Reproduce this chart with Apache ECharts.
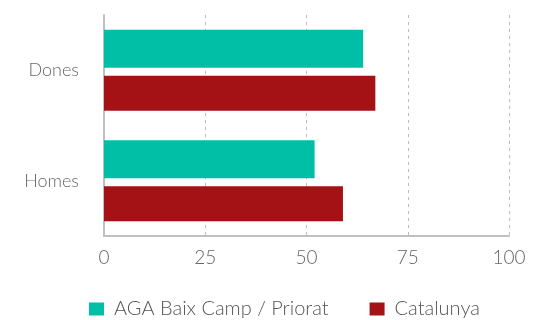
<!DOCTYPE html>
<html><head><meta charset="utf-8">
<script src="https://cdn.jsdelivr.net/npm/echarts@6/dist/echarts.min.js"></script>
<style>html,body{margin:0;padding:0;background:#fff}#c{width:537px;height:320px}</style>
</head><body><div id="c"></div>
<script>
const categories = ['Dones', 'Homes'];
const seriesNames = ['AGA Baix Camp / Priorat', 'Catalunya'];
const agaValues = [64, 52];
const catValues = [67, 59];
const xTicks = [0, 25, 50, 75, 100];

const FONT = 'Lato';
const chart = echarts.init(document.getElementById('c'));
chart.setOption({
  animation: false,
  grid: { left: 104, right: 28, top: 15, bottom: 84, containLabel: false },
  legend: {
    data: seriesNames,
    top: 299,
    left: 89,
    padding: 0,
    itemWidth: 15, itemHeight: 13, itemGap: 41,
    icon: 'rect',
    textStyle: { fontFamily: FONT, fontWeight: 300, fontSize: 20, lineHeight: 16, color: '#555', padding: [4, 0, 0, 5] }
  },
  xAxis: {
    type: 'value', min: xTicks[0], max: xTicks[xTicks.length - 1], interval: 25,
    axisLine: { show: true, lineStyle: { color: '#c0c0c0', width: 2 } },
    axisTick: { show: false },
    axisLabel: { fontFamily: FONT, fontWeight: 300, fontSize: 19, color: '#666', margin: 12 },
    splitLine: { show: true, lineStyle: { color: '#bbb', type: [3, 4], width: 1 } }
  },
  yAxis: {
    type: 'category', data: categories, inverse: true,
    axisLine: { show: true, lineStyle: { color: '#c0c0c0', width: 2 } },
    axisTick: { show: false },
    axisLabel: { fontFamily: FONT, fontWeight: 300, fontSize: 18, color: '#666', margin: 25 }
  },
  series: [
    { name: seriesNames[0], type: 'bar', data: agaValues, barWidth: 38, barGap: '21%', itemStyle: { color: '#00BFA6' } },
    { name: seriesNames[1], type: 'bar', data: catValues, barWidth: 35, barGap: '21%', itemStyle: { color: '#A51216' } }
  ]
});
</script></body></html>
